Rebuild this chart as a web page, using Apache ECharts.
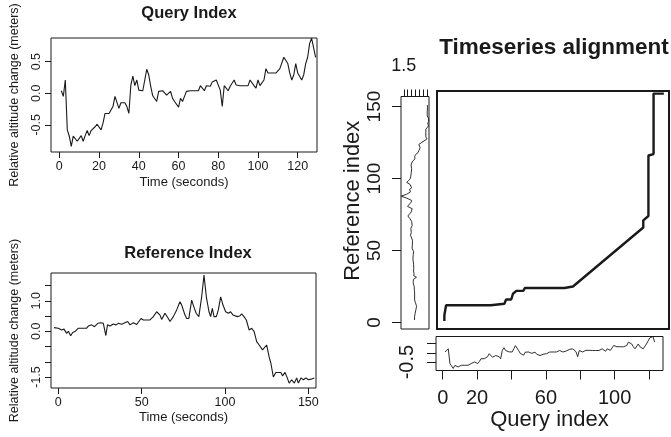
<!DOCTYPE html>
<html>
<head>
<meta charset="utf-8">
<script src="https://cdn.jsdelivr.net/npm/echarts@6/dist/echarts.min.js"></script>
<style>
  html, body { margin: 0; padding: 0; background: #fff; }
  #chart { width: 671px; height: 437px; }
</style>
</head>
<body>
<div id="chart"></div>
<script>
// query series: altitude change per second, t = 1..129
const queryAlt = [
  0.04, -0.05, 0.21, -0.58, -0.68, -0.84, -0.68, -0.67, -0.76, -0.76,
  -0.67, -0.76, -0.67, -0.59, -0.67, -0.59, -0.58, -0.53, -0.49, -0.5,
  -0.58, -0.47, -0.32, -0.31, -0.32, -0.32, -0.21, -0.05, -0.05, -0.24,
  -0.15, -0.15, -0.15, -0.21, -0.32, 0.13, 0.27, 0.12, 0.21, 0.05,
  0.04, 0.04, 0.21, 0.38, 0.29, 0.11, -0.04, -0.05, -0.13, 0.03,
  0.04, 0.04, 0.03, -0.03, -0.05, 0.03, -0.08, -0.13, -0.15, -0.22,
  -0.08, -0.13, -0.05, 0.03, 0.04, 0.04, 0.04, 0.04, 0.04, 0.04,
  0.12, 0.12, 0.04, 0.12, 0.09, 0.11, 0.18, 0.21, 0.21, 0.18,
  0.05, -0.21, 0.12, 0.11, 0.04, 0.11, 0.13, 0.21, 0.13, 0.12,
  0.12, 0.12, 0.12, 0.12, 0.12, 0.21, 0.21, 0.12, 0.08, 0.21,
  0.12, 0.13, 0.21, 0.39, 0.32, 0.32, 0.32, 0.32, 0.32, 0.32,
  0.39, 0.39, 0.57, 0.57, 0.47, 0.32, 0.21, 0.29, 0.47, 0.32,
  0.32, 0.21, 0.29, 0.47, 0.57, 0.79, 0.87, 0.87, 0.57
];

// reference series
const refTime = [
  -2.6, 0, 2, 3.4, 5, 6, 7.4, 8.6, 10, 12, 17, 18, 19, 20, 21.7, 23.7, 25.5, 27,
  28.5, 29.5, 31, 33, 34.7, 36, 38, 41.6, 43, 45, 47, 48, 49.6, 51, 55, 57, 59,
  61, 62, 64, 66, 67, 69, 71, 73, 74, 76, 77, 78.3, 80, 81.3, 82.7, 84.3, 86,
  87.4, 88.8, 90.4, 91.4, 92.4, 93.4, 94.8, 96, 97.4, 98.8, 100.4, 102, 103.4,
  104.8, 106, 107.4, 108.8, 110, 111.4, 112.8, 114.5, 116, 117.5, 119, 120.5,
  122.5, 123.7, 125, 126.5, 127.5, 129, 130.5, 133.5, 134.5, 136, 137, 138.5,
  140, 141.6, 143, 144, 145.6, 147, 148.6, 150, 151.6, 153.6
];
const refAlt = [
  0.12, 0.1, 0.04, 0.07, -0.07, 0, -0.15, -0.04, -0.01, 0.1, 0.1, 0.17, 0.13, 0.21, 0.15, 0.26, 0.28, 0.26,
  -0.14, 0.21, 0.17, 0.24, 0.21, 0.26, 0.23, 0.32, 0.21, 0.28, 0.22, 0.26, 0.42, 0.37, 0.37, 0.48, 0.64,
  0.53, 0.39, 0.59, 0.42, 0.32, 0.48, 0.7, 0.97, 0.86, 0.53, 0.42, 0.42, 1.02, 0.8, 0.59, 0.48, 1.13,
  1.84, 1.13, 0.64, 0.48, 0.75, 0.48, 0.48, 0.7, 1.13, 0.86, 0.64, 0.59, 0.64,
  0.53, 0.59, 0.48, 0.5, 0.57, 0.48, 0.37, 0.04, 0.1, -0.01, -0.34, -0.45,
  -0.61, -0.66, -0.45, -0.85, -1.04, -1.5, -1.35, -1.35, -1.46, -1.35, -1.48, -1.7,
  -1.59, -1.7, -1.53, -1.7, -1.53, -1.59, -1.53, -1.59, -1.57, -1.53
];

// warping path (query index, reference index) at its corners
const pathQuery = [1, 1, 2, 2, 28, 29, 36, 37, 40, 41, 42, 43, 47, 48, 71, 72, 76, 117, 117, 118, 120, 120, 121, 123, 123, 129];
const pathRef   = [1, 5, 5, 12, 12, 13, 13, 16, 16, 20, 21, 22, 22, 24, 24, 25, 25, 66, 71, 72, 74, 116, 117, 117, 159, 159];

// tick labels
const queryTicks = [0, 20, 40, 60, 80, 100, 120];
const queryYTicks = [-0.5, 0, 0.5];
const refTicks = [0, 50, 100, 150];
const refYTicks = [-1.5, -1, -0.5, 0, 0.5, 1, 1.5];
const refYLabels = [-1.5, 0, 1];
const indexTicks = [0, 50, 100, 150];
const dtwQueryLabels = [0, 20, 60, 100];
const dtwRefLabels = [1.5];
const dtwQYLabels = [-0.5];

const FONT = "'Liberation Sans', Arial, sans-serif";
const INK = '#1a1a1a';

const queryPts = queryAlt.map((v, i) => [i + 1, v]);
const refPts = refTime.map((t, i) => [t, refAlt[i]]);
const refSidePts = refTime.map((t, i) => [refAlt[i], t]);
const pathPts = pathQuery.map((q, i) => [q, pathRef[i]]);

const chart = echarts.init(document.getElementById('chart'));

const lab = (size, extra) => Object.assign({ color: INK, fontFamily: FONT, fontSize: size }, extra || {});
const fmt1 = v => v.toFixed(1);
const noLine = { show: false, onZero: false };

function smallX(min, max, ticks, gridIndex, nameGap) {
  return {
    type: 'value', gridIndex, min, max, position: 'bottom',
    axisLine: noLine, splitLine: { show: false },
    axisTick: { show: true, length: 6, customValues: ticks, lineStyle: { color: INK } },
    axisLabel: Object.assign(lab(12.5), { customValues: ticks, margin: 8 }),
    name: 'Time (seconds)', nameLocation: 'middle', nameGap,
    nameTextStyle: lab(13)
  };
}

function smallY(min, max, ticks, labels, gridIndex) {
  return {
    type: 'value', gridIndex, min, max, position: 'left',
    axisLine: noLine, splitLine: { show: false },
    axisTick: { show: true, length: 6, customValues: ticks, lineStyle: { color: INK } },
    axisLabel: Object.assign(lab(12.5), { customValues: labels, rotate: 90, margin: 8, formatter: fmt1 }),
    name: 'Relative altitude change (meters)', nameLocation: 'middle', nameGap: 30,
    nameRotate: 90, nameTextStyle: lab(12.5)
  };
}

const hidden = (gridIndex, min, max, position) => ({
  type: 'value', gridIndex, min, max, position, show: false,
  axisLine: noLine, splitLine: { show: false }
});

chart.setOption({
  backgroundColor: '#fff',
  animation: false,
  title: [
    { text: 'Query Index', left: 189, top: 5, padding: 0, textAlign: 'center',
      textStyle: lab(16.5, { fontWeight: 'bold' }) },
    { text: 'Reference Index', left: 188, top: 245, padding: 0, textAlign: 'center',
      textStyle: lab(16.5, { fontWeight: 'bold' }) },
    { text: 'Timeseries alignment', left: 554, top: 36, padding: 0, textAlign: 'center',
      textStyle: lab(22.5, { fontWeight: 'bold' }) }
  ],
  grid: [
    { left: 51, top: 38, width: 266, height: 114, show: true, borderColor: INK, borderWidth: 1 },
    { left: 51, top: 273, width: 265, height: 115, show: true, borderColor: INK, borderWidth: 1 },
    { left: 437, top: 91, width: 232, height: 238, show: true, borderColor: INK, borderWidth: 2 },
    { left: 401, top: 96.5, width: 28, height: 232.5, show: true, borderColor: INK, borderWidth: 1 },
    { left: 436, top: 336.5, width: 227, height: 34, show: true, borderColor: INK, borderWidth: 1 }
  ],
  xAxis: [
    smallX(-4.2, 129.7, queryTicks, 0, 24),
    smallX(-4.4, 154.6, refTicks, 1, 23),
    hidden(2, -3.3, 132, 'bottom'),
    {
      type: 'value', gridIndex: 3, min: -1.76, max: 1.86, inverse: true, position: 'top',
      axisLine: noLine, splitLine: { show: false },
      axisTick: { show: true, length: 7, customValues: refYTicks, lineStyle: { color: INK } },
      axisLabel: Object.assign(lab(18), { customValues: dtwRefLabels, margin: 21, formatter: fmt1 })
    },
    hidden(4, -4.5, 134.1, 'top'),
    {
      type: 'value', gridIndex: 4, min: -3.9, max: 128.1, position: 'bottom',
      axisLine: noLine, splitLine: { show: false },
      axisTick: { show: true, length: 9, customValues: queryTicks, lineStyle: { color: INK } },
      axisLabel: Object.assign(lab(20), { customValues: dtwQueryLabels, margin: 18 }),
      name: 'Query index', nameLocation: 'middle', nameGap: 36,
      nameTextStyle: lab(22)
    }
  ],
  yAxis: [
    smallY(-0.93, 0.875, queryYTicks, queryYTicks, 0),
    smallY(-1.86, 1.91, refYTicks, refYLabels, 1),
    hidden(2, -4.5, 160.8, 'left'),
    {
      type: 'value', gridIndex: 3, min: -4.5, max: 157, position: 'left',
      axisLine: noLine, splitLine: { show: false },
      axisTick: { show: true, length: 9, customValues: indexTicks, lineStyle: { color: INK } },
      axisLabel: Object.assign(lab(19), { customValues: indexTicks, rotate: 90, margin: 17 }),
      name: 'Reference index', nameLocation: 'middle', nameGap: 34, nameRotate: 90,
      nameTextStyle: lab(22, { padding: [0, 0, 0, 24] })
    },
    hidden(3, -9.1, 159.8, 'right'),
    {
      type: 'value', gridIndex: 4, min: -0.95, max: 0.87, position: 'left',
      axisLine: noLine, splitLine: { show: false },
      axisTick: { show: true, length: 9, customValues: queryYTicks, lineStyle: { color: INK } },
      axisLabel: Object.assign(lab(20), { customValues: dtwQYLabels, rotate: 90, margin: 19, formatter: fmt1 })
    }
  ],
  series: [
    { type: 'line', xAxisIndex: 0, yAxisIndex: 0, data: queryPts, showSymbol: false,
      lineStyle: { color: INK, width: 1.1 } },
    { type: 'line', xAxisIndex: 1, yAxisIndex: 1, data: refPts, showSymbol: false,
      lineStyle: { color: INK, width: 1.1 } },
    { type: 'line', xAxisIndex: 2, yAxisIndex: 2, data: pathPts, showSymbol: false,
      lineStyle: { color: INK, width: 2.4 } },
    { type: 'line', xAxisIndex: 3, yAxisIndex: 4, data: refSidePts, showSymbol: false,
      lineStyle: { color: INK, width: 0.9 } },
    { type: 'line', xAxisIndex: 4, yAxisIndex: 5, data: queryPts, showSymbol: false,
      lineStyle: { color: INK, width: 0.9 } }
  ]
});
</script>
</body>
</html>
